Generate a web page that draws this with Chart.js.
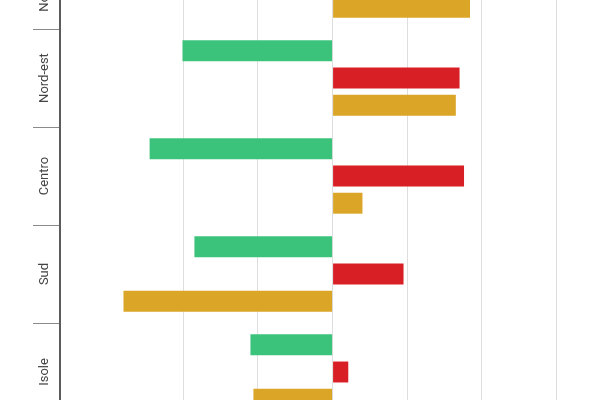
<!DOCTYPE html>
<html lang="it">
<head>
    <meta charset="UTF-8">
    <title>Ripartizioni</title>
    <script src="https://cdn.jsdelivr.net/npm/chart.js"></script>
    <style>
        body { margin: 0; background: #fff; font-family: Roboto, sans-serif; }
        #frame { position: relative; width: 600px; height: 400px; overflow: hidden; }
        /* il grafico è più grande della finestra: si vede solo la parte centrale */
        #wrap { position: absolute; left: 0; top: -69px; width: 706px; height: 490px; }
    </style>
</head>
<body>
    <div id="frame">
        <div id="wrap"><canvas id="chart"></canvas></div>
    </div>

    <script>
        const categories = ["Nord-ovest", "Nord-est", "Centro", "Sud", "Isole"];
        const seriesNames = ["Serie 1", "Serie 2", "Serie 3"];
        const greenValues = [-1.6, -2.01, -2.45, -1.85, -1.10];
        const redValues = [1.3, 1.70, 1.76, 0.95, 0.21];
        const yellowValues = [1.84, 1.65, 0.40, -2.80, -1.06];
        const colors = ["#3cc37b", "#d81f25", "#dba628"];

        const ctx = document.getElementById("chart").getContext("2d");
        new Chart(ctx, {
            type: "bar",
            data: {
                labels: categories,
                datasets: [greenValues, redValues, yellowValues].map((vals, i) => ({
                    label: seriesNames[i],
                    data: vals,
                    backgroundColor: colors[i],
                    borderWidth: 0,
                    categoryPercentage: 0.833,
                    barPercentage: 0.77
                }))
            },
            options: {
                indexAxis: "y",
                responsive: true,
                maintainAspectRatio: false,
                animation: false,
                layout: { padding: 0 },
                plugins: { legend: { display: false }, tooltip: { enabled: false } },
                scales: {
                    x: {
                        min: -3.65,
                        max: 5,
                        ticks: { display: false, stepSize: 1 },
                        grid: { color: "#dedede", lineWidth: 1, drawTicks: false },
                        border: { display: false }
                    },
                    y: {
                        afterFit: s => { s.width = 60; },
                        ticks: {
                            minRotation: 90,
                            maxRotation: 90,
                            crossAlign: "center",
                            padding: -43,
                            color: "#444",
                            font: { family: "Roboto", size: 13 }
                        },
                        grid: { drawOnChartArea: false, tickLength: 27, color: "#8a8a8a", lineWidth: 1 },
                        border: { color: "#5c5c5c", width: 2 }
                    }
                }
            }
        });
    </script>
</body>
</html>
